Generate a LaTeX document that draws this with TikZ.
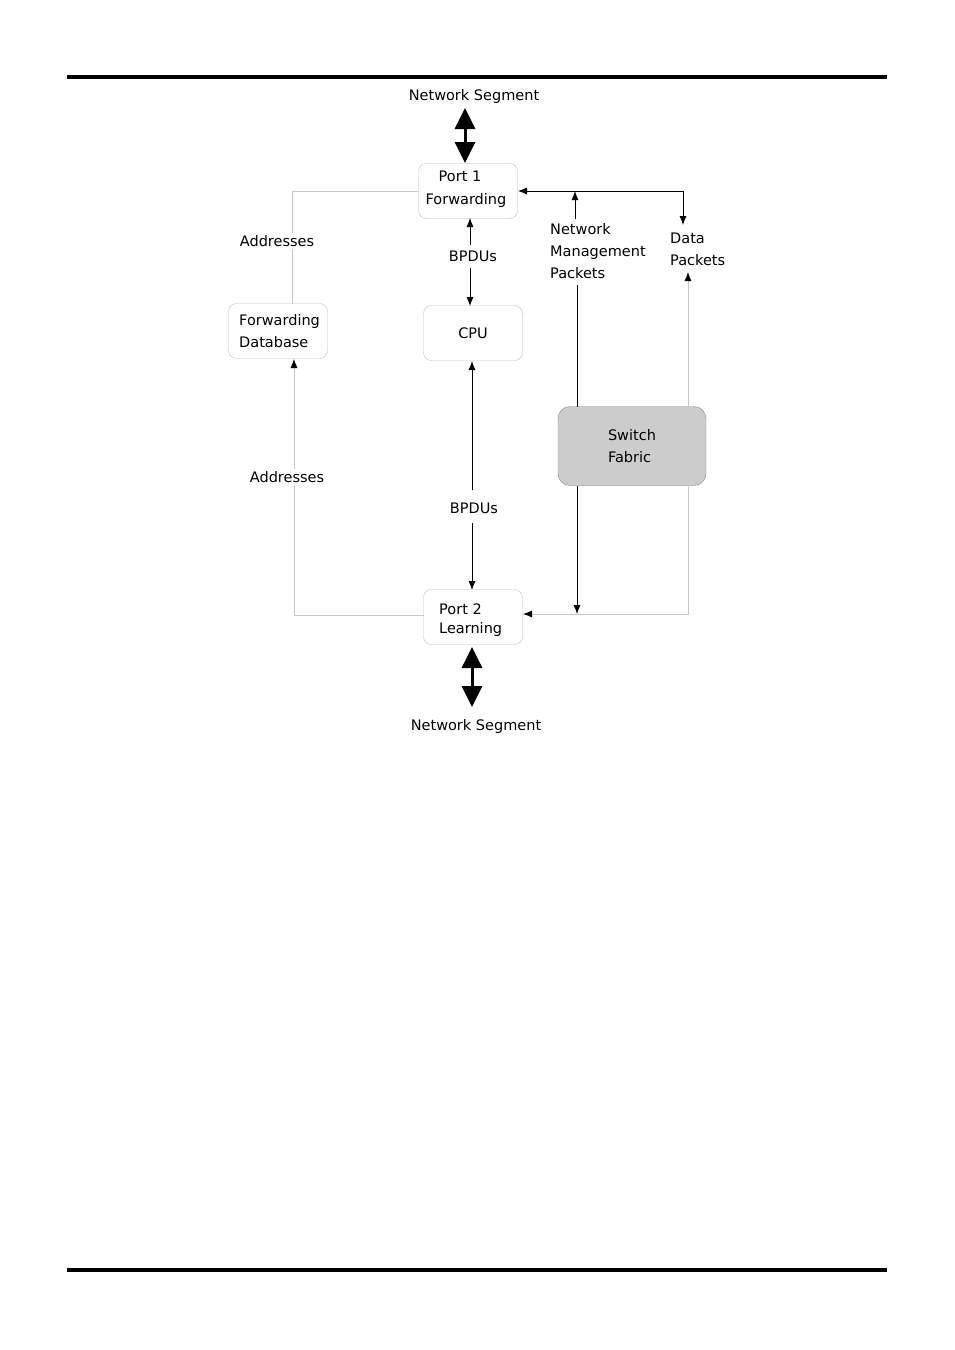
\documentclass[tikz,border=0pt]{standalone}
\usepackage{fontspec}
\setmainfont{DejaVu Sans}
\usepackage{tikz}
\usetikzlibrary{arrows.meta, calc}
\definecolor{boxline}{RGB}{190, 190, 190}
\definecolor{fabricfill}{RGB}{204, 204, 204}
\definecolor{softline}{RGB}{200, 200, 200}

\begin{document}
\begin{tikzpicture}[
    x=1pt, y=-1pt,
    font=\fontsize{14.5}{22}\selectfont,
    portBox/.style={draw=boxline, fill=white, rounded corners=8pt, minimum width=99pt, minimum height=55pt, inner sep=0pt},
    fabricBox/.style={draw=boxline!70!black, fill=fabricfill, rounded corners=12pt, minimum width=148pt, minimum height=79pt, align=left},
    lbl/.style={align=left, inner sep=1pt},
    gapLabel/.style={fill=white, inner sep=2pt},
    msgEdge/.style={draw=black, line width=0.8pt, -{Latex[length=9pt, width=7pt]}},
    plainEdge/.style={draw=black, line width=0.8pt},
    addrEdge/.style={draw=softline, line width=0.8pt},
    addrArrow/.style={draw=softline, line width=0.8pt, -{Latex[black, length=9pt, width=7pt]}},
    segEdge/.style={draw=black, line width=3pt, {Triangle[length=21pt, width=20pt]}-{Triangle[length=21pt, width=20pt]}},
    rule/.style={draw=black, line width=3.5pt}
]
\useasboundingbox (0,0) rectangle (954,1350);

% Page rules
\coordinate (ruleTL) at (67,77);
\coordinate (ruleTR) at (887,77);
\coordinate (ruleBL) at (67,1270);
\coordinate (ruleBR) at (887,1270);
\draw[rule] (ruleTL) -- (ruleTR);
\draw[rule] (ruleBL) -- (ruleBR);

% Boxes
\node[portBox] (port1) at (468,191) {};
\node[lbl] at (460,176) {Port 1};
\node[lbl] at (466,200) {Forwarding};
\node[portBox] (cpu) at (473,333) {CPU};
\node[portBox] (fwddb) at (278,331) {};
\node[lbl, anchor=west] at (238,331) {Forwarding\\Database};
\node[portBox] (port2) at (473,617) {};
\node[lbl, anchor=west] at (438,620) {Port 2\\[-3pt]Learning};
\node[fabricBox] (fabric) at (632,446) {Switch\\Fabric};

% Network segments
\node (seg1) at (474,96) {Network Segment};
\node (seg2) at (476,726) {Network Segment};
\coordinate (seg1End) at (465,108);
\coordinate (port1Top) at (465,163);
\coordinate (port2Bot) at (472,647);
\coordinate (seg2End) at (472,707);
\draw[segEdge] (seg1End) -- (port1Top);
\draw[segEdge] (port2Bot) -- (seg2End);

% BPDUs
\node (bpdu1) at (473,256) {BPDUs};
\node (bpdu2) at (474,508) {BPDUs};
\coordinate (b1a) at (470,245);
\coordinate (b1b) at (470,218);
\coordinate (b1c) at (470,268);
\coordinate (b1d) at (470,306);
\coordinate (b2a) at (472,490);
\coordinate (b2b) at (472,361);
\coordinate (b2c) at (472,523);
\coordinate (b2d) at (472,590);
\draw[msgEdge] (b1a) -- (b1b);
\draw[msgEdge] (b1c) -- (b1d);
\draw[msgEdge] (b2a) -- (b2b);
\draw[msgEdge] (b2c) -- (b2d);

% Addresses
\coordinate (addrTop) at (292,304);
\coordinate (addrBot) at (294,359);
\coordinate (port2West) at (424,615);
\draw[addrEdge] (port1.west) -| (addrTop);
\draw[addrArrow] (port2West) -| (addrBot);
\node[gapLabel] (addr1) at (277,241) {Addresses};
\node[gapLabel] (addr2) at (287,477) {Addresses};

% Management and data paths
\node[lbl, anchor=west] (nmp) at (549,251) {Network\\Management\\Packets};
\node[lbl, anchor=west] (data) at (669,249) {Data\\Packets};
\coordinate (dataCorner) at (683,191);
\coordinate (port1East) at (518,191);
\coordinate (dataTop) at (683,225);
\coordinate (nmpTop) at (575,219);
\coordinate (nmpJoin) at (575,191);
\coordinate (nmpBot) at (577,285);
\coordinate (fabNmpTop) at (577,407);
\coordinate (fabDataTop) at (688,407);
\coordinate (dataBot) at (688,272);
\coordinate (fabNmpBot) at (577,486);
\coordinate (nmpEnd) at (577,614);
\coordinate (fabDataBot) at (688,486);
\coordinate (port2East) at (523,614);
\draw[msgEdge] (dataCorner) -- (port1East);
\draw[msgEdge] (dataCorner) -- (dataTop);
\draw[msgEdge] (nmpTop) -- (nmpJoin);
\draw[plainEdge] (fabNmpTop) -- (nmpBot);
\draw[addrArrow] (fabDataTop) -- (dataBot);
\draw[msgEdge] (fabNmpBot) -- (nmpEnd);
\draw[addrArrow] (fabDataBot) |- (port2East);

\end{tikzpicture}
\end{document}
